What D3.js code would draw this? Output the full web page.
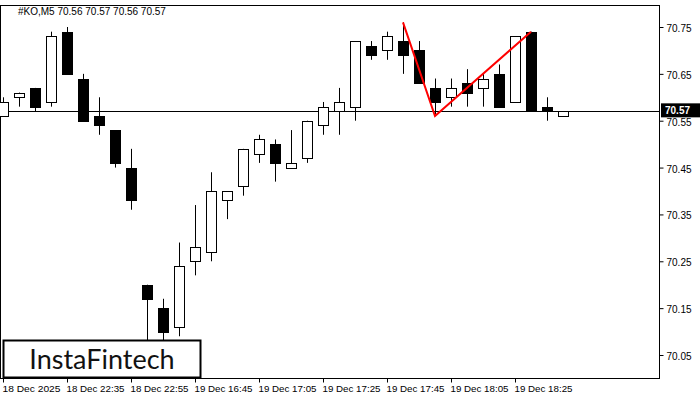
<!DOCTYPE html>
<html><head><meta charset="utf-8">
<script src="https://cdn.jsdelivr.net/npm/d3@7"></script>
<style>body{margin:0;background:#fff}svg{display:block}text{font-family:"Liberation Sans",sans-serif}</style>
</head><body><svg id="c" width="700" height="400"></svg>
<script>
const opens  = [70.56,70.60,70.62,70.59,70.74,70.64,70.56,70.53,70.45,70.20,70.15,70.11,70.25,70.27,70.38,70.41,70.48,70.50,70.45,70.47,70.54,70.57,70.58,70.71,70.70,70.72,70.70,70.62,70.60,70.63,70.62,70.65,70.59,70.74,70.58,70.56];
const highs  = [70.60,70.61,70.62,70.74,70.75,70.65,70.60,70.53,70.49,70.20,70.17,70.29,70.37,70.44,70.40,70.49,70.52,70.51,70.53,70.55,70.59,70.62,70.72,70.72,70.74,70.76,70.72,70.64,70.64,70.66,70.65,70.67,70.73,70.74,70.60,70.57];
const lows   = [70.56,70.58,70.57,70.58,70.65,70.55,70.52,70.45,70.36,70.08,70.08,70.09,70.22,70.25,70.34,70.39,70.46,70.42,70.45,70.46,70.52,70.52,70.55,70.68,70.68,70.65,70.63,70.56,70.58,70.58,70.58,70.58,70.59,70.57,70.55,70.56];
const closes = [70.59,70.61,70.58,70.73,70.65,70.55,70.54,70.46,70.38,70.17,70.10,70.24,70.28,70.40,70.40,70.49,70.51,70.46,70.46,70.55,70.58,70.59,70.72,70.69,70.73,70.69,70.63,70.59,70.62,70.61,70.64,70.58,70.73,70.57,70.57,70.57];
const patternIdx = [25,27,33];
const patternVals = [70.76,70.56,70.74];
const priceTicks = [70.05,70.15,70.25,70.35,70.45,70.55,70.65,70.75];
const timeLabels = ["18 Dec 2025","18 Dec 22:35","18 Dec 22:55","19 Dec 16:45","19 Dec 17:05","19 Dec 17:25","19 Dec 17:45","19 Dec 18:05","19 Dec 18:25"];
const lastPrice = 70.57;

const svg = d3.select("#c");
const L=0, R=660, T=5, B=378;
const y = d3.scaleLinear().domain([70.05,70.75]).range([355,27]);
const x = d3.scaleLinear().domain([0,35]).range([3,563]);
svg.append("rect").attr("x",L+0.5).attr("y",T+0.5).attr("width",R-L-1).attr("height",B-T).attr("fill","#fff").attr("stroke","#000");
const ax = d3.axisRight(y).tickValues(priceTicks).tickFormat(d3.format(".2f")).tickSize(4);
const ga = svg.append("g").attr("transform",`translate(${R-0.5},0)`).call(ax);
ga.select(".domain").remove();
ga.selectAll("text").attr("font-size",10).attr("fill","#000").attr("dy","0.45em");
const bx = d3.axisBottom(x).tickValues(timeLabels.map((d,i)=>i*4)).tickFormat((d,i)=>timeLabels[i]).tickSize(4);
const gb = svg.append("g").attr("transform",`translate(0,${B+0.5})`).call(bx);
gb.select(".domain").remove();
gb.selectAll("text").attr("font-size",9.5).attr("fill","#000").attr("text-anchor","start").attr("dx",-1).attr("textLength",58).attr("lengthAdjust","spacingAndGlyphs");

const g = svg.append("g");
g.append("line").attr("x1",L).attr("x2",R).attr("y1",Math.round(y(lastPrice))+0.5).attr("y2",Math.round(y(lastPrice))+0.5).attr("stroke","#000");
opens.forEach((o,i)=>{
  const cx=Math.round(x(i))+0.5, c=closes[i];
  g.append("line").attr("x1",cx).attr("x2",cx).attr("y1",y(highs[i])).attr("y2",y(lows[i])).attr("stroke","#000");
  const top=Math.round(y(Math.max(o,c))), bot=Math.round(y(Math.min(o,c)));
  g.append("rect").attr("x",cx-5).attr("y",top+0.5).attr("width",10).attr("height",Math.max(bot-top,1))
   .attr("fill",c<o?"#000":"#fff").attr("stroke","#000");
});
g.append("path").attr("d",d3.line()(patternIdx.map((d,i)=>[x(d),y(patternVals[i])]))).attr("fill","none").attr("stroke","#ff0000").attr("stroke-width",2);
const py=y(lastPrice);
svg.append("rect").attr("x",R+1).attr("y",py-8).attr("width",39).attr("height",14).attr("fill","#000");
svg.append("text").attr("x",R+5).attr("y",py+3).attr("font-size",10).attr("font-weight","bold").attr("fill","#fff").text("70.57");
svg.append("text").attr("x",18).attr("y",15).attr("font-size",10).attr("fill","#000").text("#KO,M5  70.56 70.57 70.56 70.57");
svg.append("rect").attr("x",3.5).attr("y",340.5).attr("width",197).attr("height",37).attr("fill","#fff").attr("stroke","#000").attr("stroke-width",2);
svg.append("text").attr("x",102).attr("y",369).attr("text-anchor","middle").attr("font-size",27).style("font-family","Lato, sans-serif").attr("fill","#111").text("InstaFintech");
</script></body></html>
